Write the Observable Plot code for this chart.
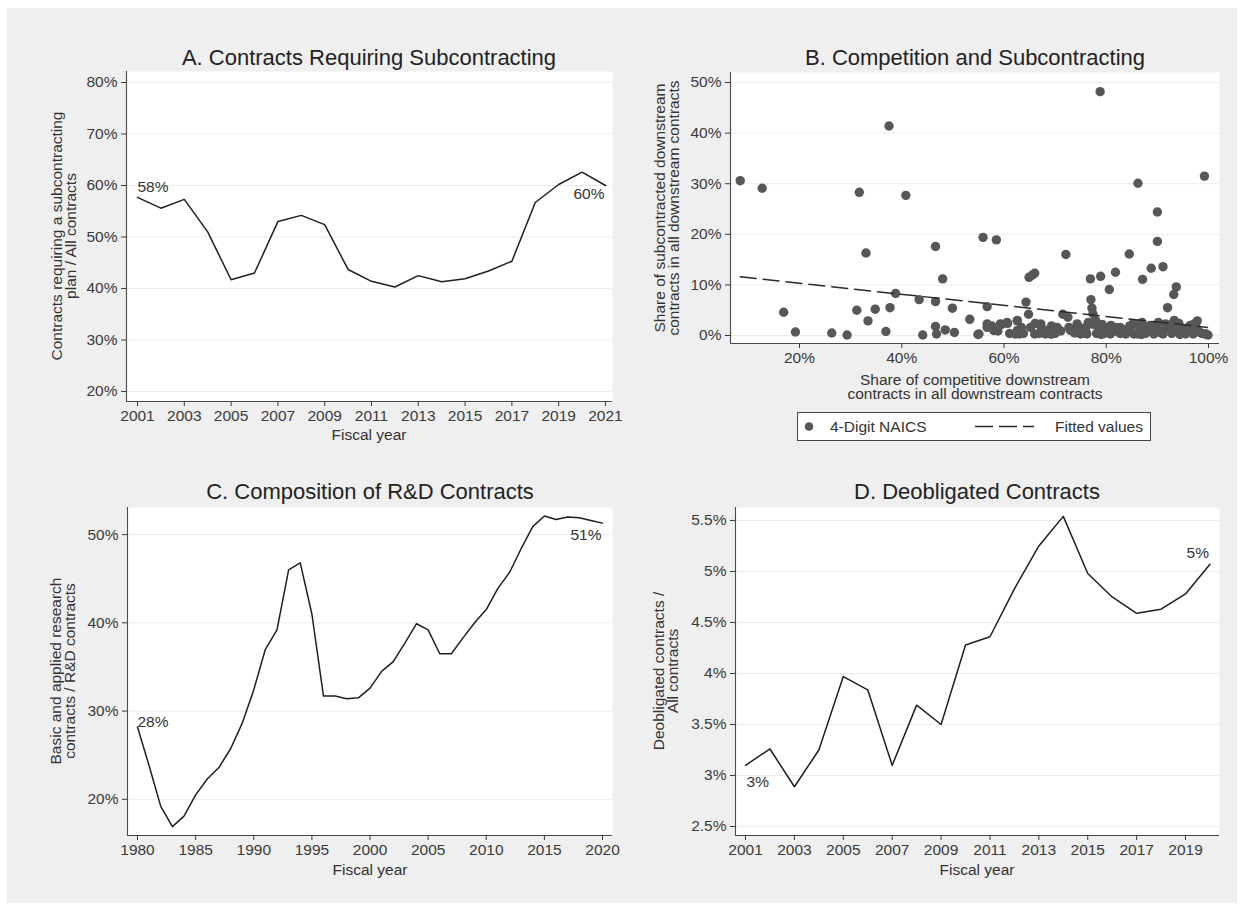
<!DOCTYPE html>
<html>
<head>
<meta charset="utf-8">
<script src="https://cdn.jsdelivr.net/npm/d3@7"></script>
<script src="https://cdn.jsdelivr.net/npm/@observablehq/plot@0.6"></script>
<style>
  html, body { margin: 0; padding: 0; background: #ffffff; }
  #root { position: relative; width: 1244px; height: 911px; overflow: hidden; background: #ffffff;
          font-family: "Liberation Sans", Arial, sans-serif; color: #333; }
  #bg { position: absolute; left: 7px; top: 8px; width: 1230px; height: 895px; background: #efefef; }
  .t { position: absolute; white-space: pre; text-align: center; transform: translate(-50%, -50%); }
  .rot { transform: translate(-50%, -50%) rotate(-90deg); }
  .panel { position: absolute; }
</style>
</head>
<body>
<div id="root"><div id="bg"></div></div>
<script>
// ---------- Panel A: contracts requiring a subcontracting plan ----------
const yearsA = [2001,2002,2003,2004,2005,2006,2007,2008,2009,2010,2011,2012,2013,2014,2015,2016,2017,2018,2019,2020,2021];
const shareA = [57.7,55.6,57.3,51.0,41.7,43.0,53.0,54.2,52.4,43.7,41.4,40.3,42.5,41.3,41.9,43.4,45.3,56.7,60.2,62.6,60.0];
const yTicksA = [20,30,40,50,60,70,80];
const xTicksA = [2001,2003,2005,2007,2009,2011,2013,2015,2017,2019,2021];

// ---------- Panel B: competition and subcontracting (4-digit NAICS) ----------
const compX = [8.4,12.7,16.9,19.2,26.3,29.3,31.2,31.7,33.0,33.4,34.8,36.9,37.5,37.7,38.8,40.8,43.4,44.1,46.6,46.6,
  46.6,46.8,48.0,48.5,50.3,49.9,53.3,54.9,55.9,56.7,56.7,57.6,58.5,58.8,59.5,60.7,61.1,62.2,62.6,63.4,
  63.8,64.3,64.8,64.9,65.5,66.0,66.1,66.0,67.3,68.1,68.8,69.3,70.0,71.1,71.5,72.1,72.5,72.7,73.8,74.6,
  75.0,75.8,76.9,77.0,77.2,77.4,76.5,77.5,77.9,78.5,78.8,78.9,79.2,79.6,80.6,80.8,81.8,81.9,82.7,83.7,
  84.5,84.6,85.4,86.2,86.6,87.1,87.0,87.7,88.5,88.8,89.3,90.0,90.0,90.2,90.7,91.1,92.0,92.0,92.8,93.2,
  93.3,93.7,93.9,94.7,95.8,97.0,97.8,98.0,99.2,99.3,99.9,73.4,78.1,80.0,82.7,88.8,91.1,96.1,98.7,76.2,
  63.0,66.9,69.3,81.2,86.2,92.8,95.1,97.2,70.5,74.2,84.0,89.8,94.2,85.3,
  55.1,56.7,58.0,59.3,60.6,62.6,62.6,65.2,67.2,69.1,70.4,73.0,74.3,76.0,77.9,79.9,81.8,83.8,85.8,87.7,
  89.7,91.6,93.6,95.5,97.5,99.5,76.0,79.0,83.0,86.9,90.5,94.4,98.3,80.9,84.9,88.6,92.4,96.4];
const compY = [30.6,29.1,4.6,0.7,0.5,0.1,5.0,28.3,16.3,2.9,5.2,0.8,41.4,5.5,8.3,27.7,7.1,0.1,17.6,6.7,
  1.8,0.3,11.2,1.1,0.6,5.4,3.2,0.2,19.4,5.7,1.6,1.9,18.9,0.9,2.2,2.4,0.4,0.3,2.9,1.6,
  0.4,6.6,4.2,11.5,11.9,12.3,2.4,0.3,1.6,0.3,1.1,1.9,0.4,0.9,4.2,16.0,3.6,1.6,0.5,1.7,
  0.3,0.9,11.2,7.1,5.4,4.3,2.6,2.2,3.0,1.6,48.2,11.7,2.2,0.4,9.1,0.3,12.5,0.9,1.6,0.4,
  16.1,1.9,0.3,30.1,1.1,11.1,2.6,0.4,1.6,13.3,0.3,24.4,18.6,2.6,0.9,13.6,5.5,1.6,0.4,8.1,
  3.0,9.6,1.6,0.4,0.9,0.3,2.9,0.9,31.5,0.3,0.1,0.9,0.4,1.3,0.4,0.9,0.3,1.6,0.4,0.3,
  0.3,0.4,0.3,1.6,0.3,2.2,1.3,2.3,1.2,1.2,1.2,1.3,2.4,2.4,
  0.3,2.3,1.0,2.3,2.6,3.0,1.0,1.6,2.3,0.3,1.6,1.0,2.3,1.6,2.3,1.0,1.6,0.3,2.3,1.0,
  1.6,2.3,1.0,0.3,1.6,0.3,0.6,0.2,0.6,0.2,0.6,0.2,0.6,2.0,1.8,2.0,1.8,2.0];
const fitX = [8.4, 99.8];
const fitY = [11.6, 1.6];
const yTicksB = [0,10,20,30,40,50];
const xTicksB = [20,40,60,80,100];

// ---------- Panel C: composition of R&D contracts ----------
const yearsC = [1980,1981,1982,1983,1984,1985,1986,1987,1988,1989,1990,1991,1992,1993,1994,1995,1996,1997,1998,1999,
  2000,2001,2002,2003,2004,2005,2006,2007,2008,2009,2010,2011,2012,2013,2014,2015,2016,2017,2018,2019,2020];
const shareC = [28.2,23.8,19.2,16.9,18.1,20.5,22.3,23.6,25.7,28.6,32.4,37.0,39.2,46.0,46.8,41.0,31.7,31.7,31.4,31.5,
  32.6,34.5,35.6,37.7,39.9,39.2,36.5,36.5,38.3,40.0,41.5,43.9,45.7,48.4,50.9,52.1,51.7,52.0,51.9,51.6,51.3];
const yTicksC = [20,30,40,50];
const xTicksC = [1980,1985,1990,1995,2000,2005,2010,2015,2020];

// ---------- Panel D: deobligated contracts ----------
const yearsD = [2001,2002,2003,2004,2005,2006,2007,2008,2009,2010,2011,2012,2013,2014,2015,2016,2017,2018,2019,2020];
const shareD = [3.10,3.26,2.89,3.25,3.97,3.84,3.10,3.69,3.50,4.28,4.36,4.83,5.25,5.54,4.98,4.75,4.59,4.63,4.78,5.07];
const yTicksD = [2.5,3,3.5,4,4.5,5,5.5];
const xTicksD = [2001,2003,2005,2007,2009,2011,2013,2015,2017,2019];

// ---------- helpers ----------
const root = document.getElementById("root");
const FONT = '"Liberation Sans", Arial, sans-serif';
const TXT = "#333333";
const AXIS = "#4a4a4a";
const GRID = "#ebebeb";
const LINE = "#1f1f1f";
const pct = d => d + "%";

function addText(str, cx, cy, size, extraClass) {
  const el = document.createElement("div");
  el.className = "t" + (extraClass ? " " + extraClass : "");
  el.style.left = cx + "px";
  el.style.top = cy + "px";
  el.style.fontSize = size + "px";
  el.style.lineHeight = (size * 0.93) + "px";
  el.style.color = extraClass === "title" ? "#222" : TXT;
  el.textContent = str;
  root.appendChild(el);
}

const ML = 80, MR = 14, MT = 12, MB = 44;
function panel(frame, xDomain, yDomain, xTicks, yTicks, xFmt, yFmt, dataMarks) {
  const w = frame.r - frame.l, h = frame.b - frame.t;
  const svg = Plot.plot({
    width: w + ML + MR, height: h + MT + MB,
    marginLeft: ML, marginRight: MR, marginTop: MT, marginBottom: MB,
    x: {domain: xDomain},
    y: {domain: yDomain},
    style: {fontFamily: FONT, fontSize: "15.5px", color: TXT, background: "transparent", overflow: "visible"},
    marks: [
      Plot.frame({fill: "white", stroke: "none"}),
      Plot.ruleY(yTicks, {stroke: GRID, strokeWidth: 1}),
      ...dataMarks,
      Plot.ruleX([xDomain[0]], {stroke: AXIS, strokeWidth: 1.1}),
      Plot.ruleY([yDomain[0]], {stroke: AXIS, strokeWidth: 1.1}),
      Plot.axisX({ticks: xTicks, tickFormat: xFmt, tickSize: 5, tickPadding: 3, color: "#3a3a3a", label: null, fontSize: 15.5}),
      Plot.axisY({ticks: yTicks, tickFormat: yFmt, tickSize: 5, tickPadding: 4, color: "#3a3a3a", label: null, fontSize: 15.5})
    ]
  });
  svg.classList.add("panel");
  svg.style.left = (frame.l - ML) + "px";
  svg.style.top = (frame.t - MT) + "px";
  root.appendChild(svg);
}

const labelStyle = {fontSize: 15.5, fill: TXT, fontFamily: FONT};

// ---------- Panel A ----------
const dataA = yearsA.map((year, i) => ({year, v: shareA[i]}));
panel({l: 126, r: 612, t: 71, b: 401}, [2000.53, 2021.3], [18.06, 82.14], xTicksA, yTicksA, d => String(d), pct, [
  Plot.line(dataA, {x: "year", y: "v", stroke: LINE, strokeWidth: 1.5}),
  Plot.text([dataA[0]], {x: "year", y: "v", text: d => Math.round(d.v) + "%", textAnchor: "start", dx: 0, dy: -10, ...labelStyle}),
  Plot.text([dataA[dataA.length - 1]], {x: "year", y: "v", text: d => Math.round(d.v) + "%", textAnchor: "end", dx: -1, dy: 9, ...labelStyle})
]);
addText("A. Contracts Requiring Subcontracting", 369, 58, 22, "title");
addText("Contracts requiring a subcontracting\nplan / All contracts", 64, 236, 15.5, "rot");
addText("Fiscal year", 369, 435, 15.5);

// ---------- Panel B ----------
const dataB = compX.map((x, i) => ({x, y: compY[i]}));
const fitB = fitX.map((x, i) => ({x, y: fitY[i]}));
panel({l: 730, r: 1219, t: 72, b: 343}, [6.5, 102.15], [-1.58, 51.98], xTicksB, yTicksB, pct, pct, [
  Plot.dot(dataB, {x: "x", y: "y", r: 4.7, fill: "#575757", stroke: "none"}),
  Plot.line(fitB, {x: "x", y: "y", stroke: "#2a2a2a", strokeWidth: 1.5, strokeDasharray: "16,7"})
]);
addText("B. Competition and Subcontracting", 975, 58, 22, "title");
addText("Share of subcontracted downstream\ncontracts in all downstream contracts", 667, 208, 15.5, "rot");
addText("Share of competitive downstream\ncontracts in all downstream contracts", 975, 387, 15.5);

// legend
const leg = document.createElement("div");
leg.style.cssText = "position:absolute;left:797px;top:412px;width:354px;height:29px;background:#fff;border:1px solid #444;box-sizing:border-box;";
leg.innerHTML =
  '<svg width="352" height="27" style="position:absolute;left:0;top:0">' +
  '<circle cx="11" cy="13.5" r="4.3" fill="#575757"></circle>' +
  '<line x1="177" x2="236" y1="13.5" y2="13.5" stroke="#2a2a2a" stroke-width="1.5" stroke-dasharray="18,6"></line>' +
  '<text x="32" y="19" font-size="15.5" fill="#333" font-family=\'Liberation Sans, Arial, sans-serif\'>4-Digit NAICS</text>' +
  '<text x="257" y="19" font-size="15.5" fill="#333" font-family=\'Liberation Sans, Arial, sans-serif\'>Fitted values</text>' +
  '</svg>';
root.appendChild(leg);

// ---------- Panel C ----------
const dataC = yearsC.map((year, i) => ({year, v: shareC[i]}));
panel({l: 127, r: 612, t: 507, b: 835}, [1979.14, 2020.86], [15.9, 53.07], xTicksC, yTicksC, d => String(d), pct, [
  Plot.line(dataC, {x: "year", y: "v", stroke: LINE, strokeWidth: 1.5}),
  Plot.text([dataC[0]], {x: "year", y: "v", text: d => Math.round(d.v) + "%", textAnchor: "start", dx: 0, dy: -5, ...labelStyle}),
  Plot.text([dataC[dataC.length - 1]], {x: "year", y: "v", text: d => Math.round(d.v) + "%", textAnchor: "end", dx: -1, dy: 12, ...labelStyle})
]);
addText("C. Composition of R&D Contracts", 370, 492, 22, "title");
addText("Basic and applied research\ncontracts / R&D contracts", 63, 671, 15.5, "rot");
addText("Fiscal year", 370, 870, 15.5);

// ---------- Panel D ----------
const dataD = yearsD.map((year, i) => ({year, v: shareD[i]}));
panel({l: 735, r: 1219, t: 507, b: 835}, [2000.59, 2020.39], [2.412, 5.627], xTicksD, yTicksD, d => String(d), pct, [
  Plot.line(dataD, {x: "year", y: "v", stroke: LINE, strokeWidth: 1.5}),
  Plot.text([dataD[0]], {x: "year", y: "v", text: d => Math.round(d.v) + "%", textAnchor: "start", dx: 1, dy: 17, ...labelStyle}),
  Plot.text([dataD[dataD.length - 1]], {x: "year", y: "v", text: d => Math.round(d.v) + "%", textAnchor: "end", dx: -1, dy: -11, ...labelStyle})
]);
addText("D. Deobligated Contracts", 977, 492, 22, "title");
addText("Deobligated contracts /\nAll contracts", 666, 671, 15.5, "rot");
addText("Fiscal year", 977, 870, 15.5);
</script>
</body>
</html>
